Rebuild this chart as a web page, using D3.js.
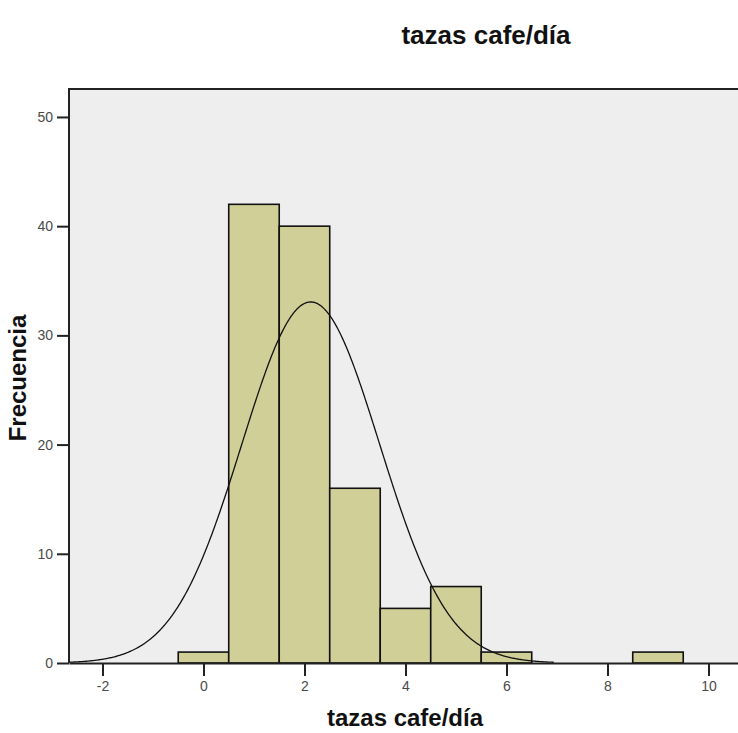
<!DOCTYPE html>
<html>
<head>
<meta charset="utf-8">
<script src="https://cdn.jsdelivr.net/npm/d3@7"></script>
<style>
  html, body { margin: 0; padding: 0; background: #fff; }
  svg { display: block; }
</style>
</head>
<body>
<svg id="chart" width="738" height="733"></svg>
<script>
// Histogram of cups of coffee per day, bins of width 1 centred on integers
const binCenters = [0, 1, 2, 3, 4, 5, 6, 9];
const frequencies = [1, 42, 40, 16, 5, 7, 1, 1];
const xTicks = [-2, 0, 2, 4, 6, 8, 10];
const yTicks = [0, 10, 20, 30, 40, 50];
const binWidth = 1;

const svg = d3.select("#chart");
const plotLeft = 69, plotRight = 741, plotTop = 89, plotBottom = 663;

const x = d3.scaleLinear().domain([-2.663, 10.644]).range([plotLeft, plotRight]);
const y = d3.scaleLinear().domain([0, 52.56]).range([plotBottom, plotTop]);

// Plot background
svg.append("rect")
  .attr("x", plotLeft).attr("y", plotTop)
  .attr("width", plotRight - plotLeft).attr("height", plotBottom - plotTop)
  .attr("fill", "#eeeeee");

// Bars
svg.append("g").selectAll("rect")
  .data(binCenters.map((c, i) => ({ c, f: frequencies[i] })))
  .join("rect")
  .attr("x", d => x(d.c - binWidth / 2))
  .attr("y", d => y(d.f))
  .attr("width", d => x(d.c + binWidth / 2) - x(d.c - binWidth / 2))
  .attr("height", d => y(0) - y(d.f))
  .attr("fill", "#d0cf97")
  .attr("stroke", "#111")
  .attr("stroke-width", 1.6);

// Fitted normal curve scaled to counts (N * bin width * density)
const N = d3.sum(frequencies);
const mean = d3.sum(binCenters.map((c, i) => c * frequencies[i])) / N;
const sd = Math.sqrt(d3.sum(binCenters.map((c, i) => frequencies[i] * (c - mean) ** 2)) / (N - 1));
const density = v => N * binWidth * Math.exp(-0.5 * ((v - mean) / sd) ** 2) / (sd * Math.sqrt(2 * Math.PI));
const curveX = d3.range(-2.663, 6.95, 0.02);
svg.append("path")
  .datum(curveX)
  .attr("fill", "none")
  .attr("stroke", "#111")
  .attr("stroke-width", 1.3)
  .attr("d", d3.line().x(v => x(v)).y(v => y(density(v))));

// Top frame
svg.append("line")
  .attr("x1", plotLeft).attr("x2", plotRight)
  .attr("y1", plotTop).attr("y2", plotTop)
  .attr("stroke", "#222").attr("stroke-width", 2);

// Axes (plain hyphen for negative labels)
const plainFormat = d => String(d);
const xAxis = d3.axisBottom(x).tickValues(xTicks).tickFormat(plainFormat)
  .tickSize(13).tickPadding(5).tickSizeOuter(0);
const yAxis = d3.axisLeft(y).tickValues(yTicks).tickFormat(plainFormat)
  .tickSize(12).tickPadding(4).tickSizeOuter(0);

const gx = svg.append("g").attr("transform", `translate(0,${plotBottom})`).call(xAxis);
const gy = svg.append("g").attr("transform", `translate(${plotLeft},0)`).call(yAxis);

[gx, gy].forEach(g => {
  g.select(".domain").attr("stroke", "#222").attr("stroke-width", 2);
  g.selectAll(".tick line").attr("stroke", "#222").attr("stroke-width", 2);
  g.selectAll(".tick text")
    .attr("fill", "#4a4a4a")
    .style("font-family", "'Liberation Sans', Arial, sans-serif")
    .style("font-size", "14px");
});
gy.select(".domain").attr("d", `M0,${plotTop - 1}V${plotBottom}`);

// Titles
svg.append("text")
  .attr("x", 486).attr("y", 44)
  .attr("text-anchor", "middle")
  .style("font-family", "'Liberation Sans', Arial, sans-serif")
  .style("font-weight", "bold")
  .style("font-size", "26px")
  .attr("fill", "#111")
  .text("tazas cafe/día");

svg.append("text")
  .attr("x", 405).attr("y", 726)
  .attr("text-anchor", "middle")
  .style("font-family", "'Liberation Sans', Arial, sans-serif")
  .style("font-weight", "bold")
  .style("font-size", "24px")
  .attr("fill", "#111")
  .text("tazas cafe/día");

svg.append("text")
  .attr("transform", `translate(26,378) rotate(-90)`)
  .attr("text-anchor", "middle")
  .style("font-family", "'Liberation Sans', Arial, sans-serif")
  .style("font-weight", "bold")
  .style("font-size", "24px")
  .attr("fill", "#111")
  .text("Frecuencia");
</script>
</body>
</html>
